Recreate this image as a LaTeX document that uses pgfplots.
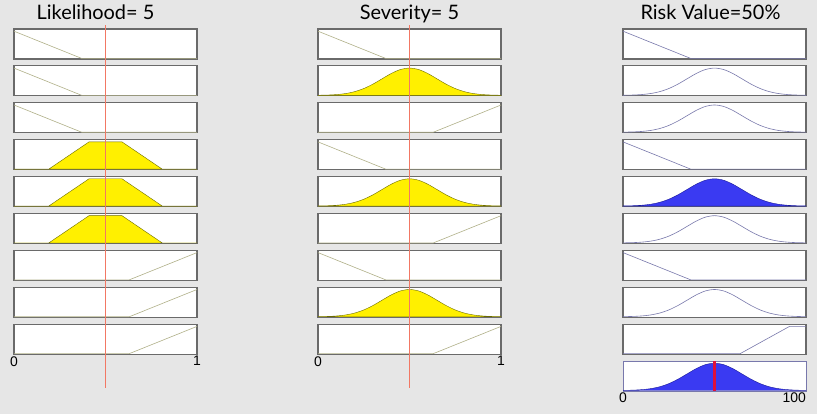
\documentclass[border=0pt]{standalone}
\usepackage{pgfplots}
\usepackage{pgfplotstable}
\pgfplotsset{compat=1.18}
\usepackage{fontspec}
\setmainfont{Liberation Sans}
\newfontfamily\titlefont{Lato}

\definecolor{bggray}{HTML}{E6E6E6}
\definecolor{boxgray}{HTML}{6A6A6A}
\definecolor{inline}{HTML}{B0B088}
\definecolor{outline}{HTML}{7878AC}
\definecolor{yfill}{HTML}{FFF000}
\definecolor{yedge}{HTML}{6B6B00}
\definecolor{bfill}{HTML}{3A3AF2}
\definecolor{bedge}{HTML}{1A1A9A}
\definecolor{markred}{RGB}{242,120,100}
\definecolor{outred}{RGB}{224,16,58}

% membership functions on a 0..1 universe
\pgfplotstableread{
x y
0 1
0.37 0
1 0
}\down
\pgfplotstableread{
x y
0 0
0.63 0
1 1
}\up
\pgfplotstableread{
x y
0 0
0.19 0
0.41 1
0.59 1
0.81 0
1 0
}\trap
\pgfplotstableread{
x y
0.00 0.0039
0.05 0.0111
0.10 0.0286
0.15 0.0657
0.20 0.1353
0.25 0.2494
0.30 0.4111
0.35 0.6065
0.40 0.8007
0.45 0.9460
0.50 1.0000
0.55 0.9460
0.60 0.8007
0.65 0.6065
0.70 0.4111
0.75 0.2494
0.80 0.1353
0.85 0.0657
0.90 0.0286
0.95 0.0111
1.00 0.0039
}\gauss
\pgfplotstableread{
x y
0 0
0.64 0
0.91 1
1 1
}\rup

\pgfplotsset{
  mfbox/.style={width=183bp, height=30bp, scale only axis,
    anchor=south west, xmin=0, xmax=1, ymin=-0.02, ymax=1.08,
    axis background/.style={fill=white},
    axis line style={draw=boxgray, line width=1.1pt},
    xtick=\empty, ytick=\empty, major tick length=0pt,
    xticklabel style={font=\fontsize{14}{16}\selectfont, anchor=north, inner sep=0pt, yshift=-2bp},
    title style={font=\titlefont\fontsize{20}{22}\selectfont, anchor=base, at={(0.5,1)}, yshift=4bp}},
  riskbox/.style={mfbox, xmin=0, xmax=100},
  valueline/.style={width=183bp, height=363bp, scale only axis, anchor=south west,
    xmin=0, xmax=1, ymin=0, ymax=1, hide axis},
}
\newcommand{\inbox}[4][]{\begin{axis}[mfbox, at={(#2bp,#3bp)}, #1] #4 \end{axis}}
\newcommand{\outbox}[4][]{\begin{axis}[riskbox, at={(#2bp,#3bp)}, #1] #4 \end{axis}}

\begin{document}
\begin{tikzpicture}
\fill[bggray] (0,0) rectangle (817bp,414bp);
\useasboundingbox (0,0) rectangle (817bp,414bp);

% ---- Likelihood
\inbox[title={Likelihood= 5}, title style={xshift=-10bp}]{14}{355}{\addplot[inline, semithick] table {\down};}
\inbox{14}{318.1}{\addplot[inline, semithick] table {\down};}
\inbox{14}{281.2}{\addplot[inline, semithick] table {\down};}
\inbox{14}{244.3}{\addplot[yedge, fill=yfill, thin] table {\trap} \closedcycle;}
\inbox{14}{207.4}{\addplot[yedge, fill=yfill, thin] table {\trap} \closedcycle;}
\inbox{14}{170.5}{\addplot[yedge, fill=yfill, thin] table {\trap} \closedcycle;}
\inbox{14}{133.6}{\addplot[inline, semithick] table {\up};}
\inbox{14}{96.7}{\addplot[inline, semithick] table {\up};}
\inbox[xtick={0,1}, xticklabels={0,1}]{14}{59.8}{\addplot[inline, semithick] table {\up};}

% ---- Severity
\inbox[title={Severity= 5}]{318}{355}{\addplot[inline, semithick] table {\down};}
\inbox{318}{318.1}{\addplot[yedge, fill=yfill, thin, smooth] table {\gauss} \closedcycle;}
\inbox{318}{281.2}{\addplot[inline, semithick] table {\up};}
\inbox{318}{244.3}{\addplot[inline, semithick] table {\down};}
\inbox{318}{207.4}{\addplot[yedge, fill=yfill, thin, smooth] table {\gauss} \closedcycle;}
\inbox{318}{170.5}{\addplot[inline, semithick] table {\up};}
\inbox{318}{133.6}{\addplot[inline, semithick] table {\down};}
\inbox{318}{96.7}{\addplot[yedge, fill=yfill, thin, smooth] table {\gauss} \closedcycle;}
\inbox[xtick={0,1}, xticklabels={0,1}]{318}{59.8}{\addplot[inline, semithick] table {\up};}

% ---- Risk Value (0..100)
\outbox[title={Risk Value=50\%}, title style={xshift=-4bp}]{623}{355}{\addplot[outline, semithick] table[x expr=100*\thisrow{x}] {\down};}
\outbox{623}{318.1}{\addplot[outline, semithick, smooth] table[x expr=100*\thisrow{x}] {\gauss};}
\outbox{623}{281.2}{\addplot[outline, semithick, smooth] table[x expr=100*\thisrow{x}] {\gauss};}
\outbox{623}{244.3}{\addplot[outline, semithick] table[x expr=100*\thisrow{x}] {\down};}
\outbox{623}{207.4}{\addplot[bedge, fill=bfill, thin, smooth] table[x expr=100*\thisrow{x}] {\gauss} \closedcycle;}
\outbox{623}{170.5}{\addplot[outline, semithick, smooth] table[x expr=100*\thisrow{x}] {\gauss};}
\outbox{623}{133.6}{\addplot[outline, semithick] table[x expr=100*\thisrow{x}] {\down};}
\outbox{623}{96.7}{\addplot[outline, semithick, smooth] table[x expr=100*\thisrow{x}] {\gauss};}
\outbox{623}{59.8}{\addplot[outline, semithick] table[x expr=100*\thisrow{x}] {\rup};}
% aggregated output
\outbox[axis line style={draw=outline, line width=0.8pt}, xtick={0,100},
  xticklabels={0,\makebox[0pt][r]{100}}]{623}{23}{
  \addplot[bedge, fill=bfill, thin, smooth] table[x expr=100*\thisrow{x}] {\gauss} \closedcycle;
  \addplot[outred, line width=2.2pt] coordinates {(50,-0.02) (50,1.08)};
}

% ---- input value markers
\begin{axis}[valueline, at={(14bp,26bp)}]
  \addplot[markred, line width=1.6pt] coordinates {(0.5,0) (0.5,1)};
\end{axis}
\begin{axis}[valueline, at={(318bp,26bp)}]
  \addplot[markred, line width=1.6pt] coordinates {(0.5,0) (0.5,1)};
\end{axis}
\end{tikzpicture}
\end{document}
